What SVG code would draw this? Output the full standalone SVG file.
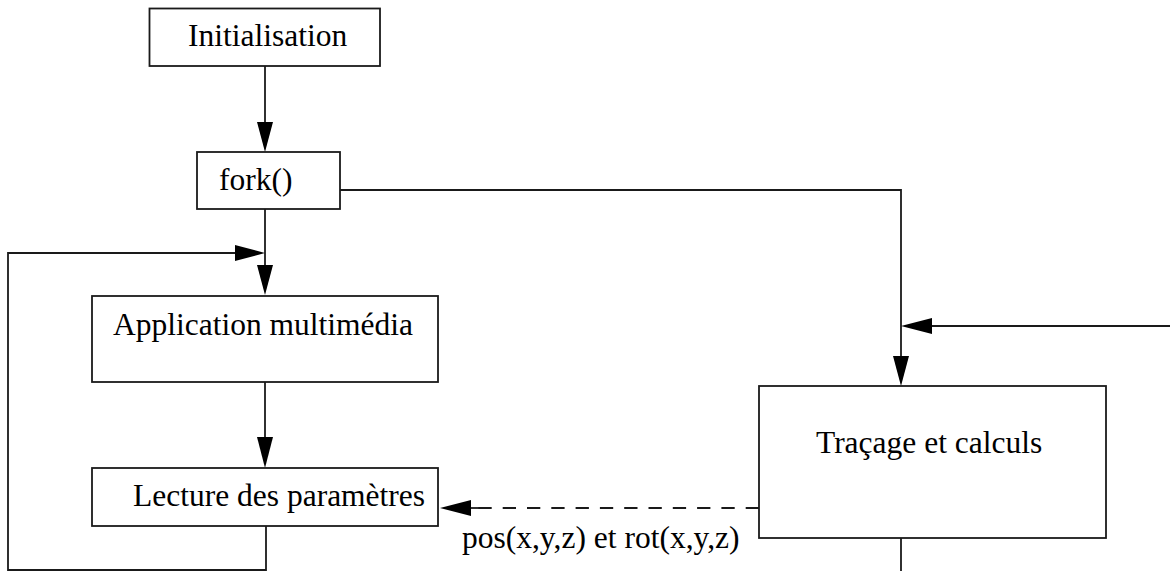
<svg xmlns="http://www.w3.org/2000/svg" width="1170" height="571" viewBox="0 0 1170 571">
<style>
.box{fill:#fff;stroke:#1a1a1a;stroke-width:1.8}
.ln{fill:none;stroke:#1a1a1a;stroke-width:1.8}
.dash{stroke-dasharray:13.3 11}
text{font-family:"Liberation Serif","Times New Roman",serif;font-size:31.5px;fill:#000}
.ah{fill:#000}
</style>
<rect width="1170" height="571" fill="#fff"/>
<g id="connectors">
<line class="ln" x1="265" y1="66" x2="265" y2="124"/>
<polygon class="ah" points="257,122 273,122 265,152"/>
<line class="ln" x1="265" y1="209" x2="265" y2="267"/>
<polygon class="ah" points="257,265 273,265 265,295"/>
<polyline class="ln" points="266,526 266,570 8,570 8,253 237,253"/>
<polygon class="ah" points="235,245 235,261 265,253"/>
<line class="ln" x1="265" y1="382" x2="265" y2="439"/>
<polygon class="ah" points="257,437 273,437 265,468"/>
<polyline class="ln" points="340,190 901,190 901,358"/>
<polygon class="ah" points="893,356 909,356 901,386"/>
<line class="ln" x1="1170" y1="326" x2="930" y2="326"/>
<polygon class="ah" points="932,318 932,334 901,326"/>
<line class="ln" x1="901" y1="538" x2="901" y2="571"/>
<line class="ln dash" x1="759" y1="508" x2="472" y2="508"/>
<line class="ln" x1="479" y1="508" x2="470" y2="508"/>
<polygon class="ah" points="471,500 471,516 440,508"/>
<text x="462" y="548">pos(x,y,z) et rot(x,y,z)</text>
</g>
<g id="init">
<rect class="box" x="149.5" y="8.5" width="230.5" height="57.5"/>
<text x="188" y="46">Initialisation</text>
</g>
<g id="fork">
<rect class="box" x="197" y="152" width="143" height="57"/>
<text x="219" y="190">fork()</text>
</g>
<g id="app">
<rect class="box" x="92" y="296" width="346" height="86"/>
<text x="113" y="335">Application multimédia</text>
</g>
<g id="lecture">
<rect class="box" x="92" y="468" width="346" height="58"/>
<text x="133" y="506">Lecture des paramètres</text>
</g>
<g id="tracage">
<rect class="box" x="759" y="386" width="347" height="152"/>
<text x="816" y="453">Traçage et calculs</text>
</g>
</svg>
